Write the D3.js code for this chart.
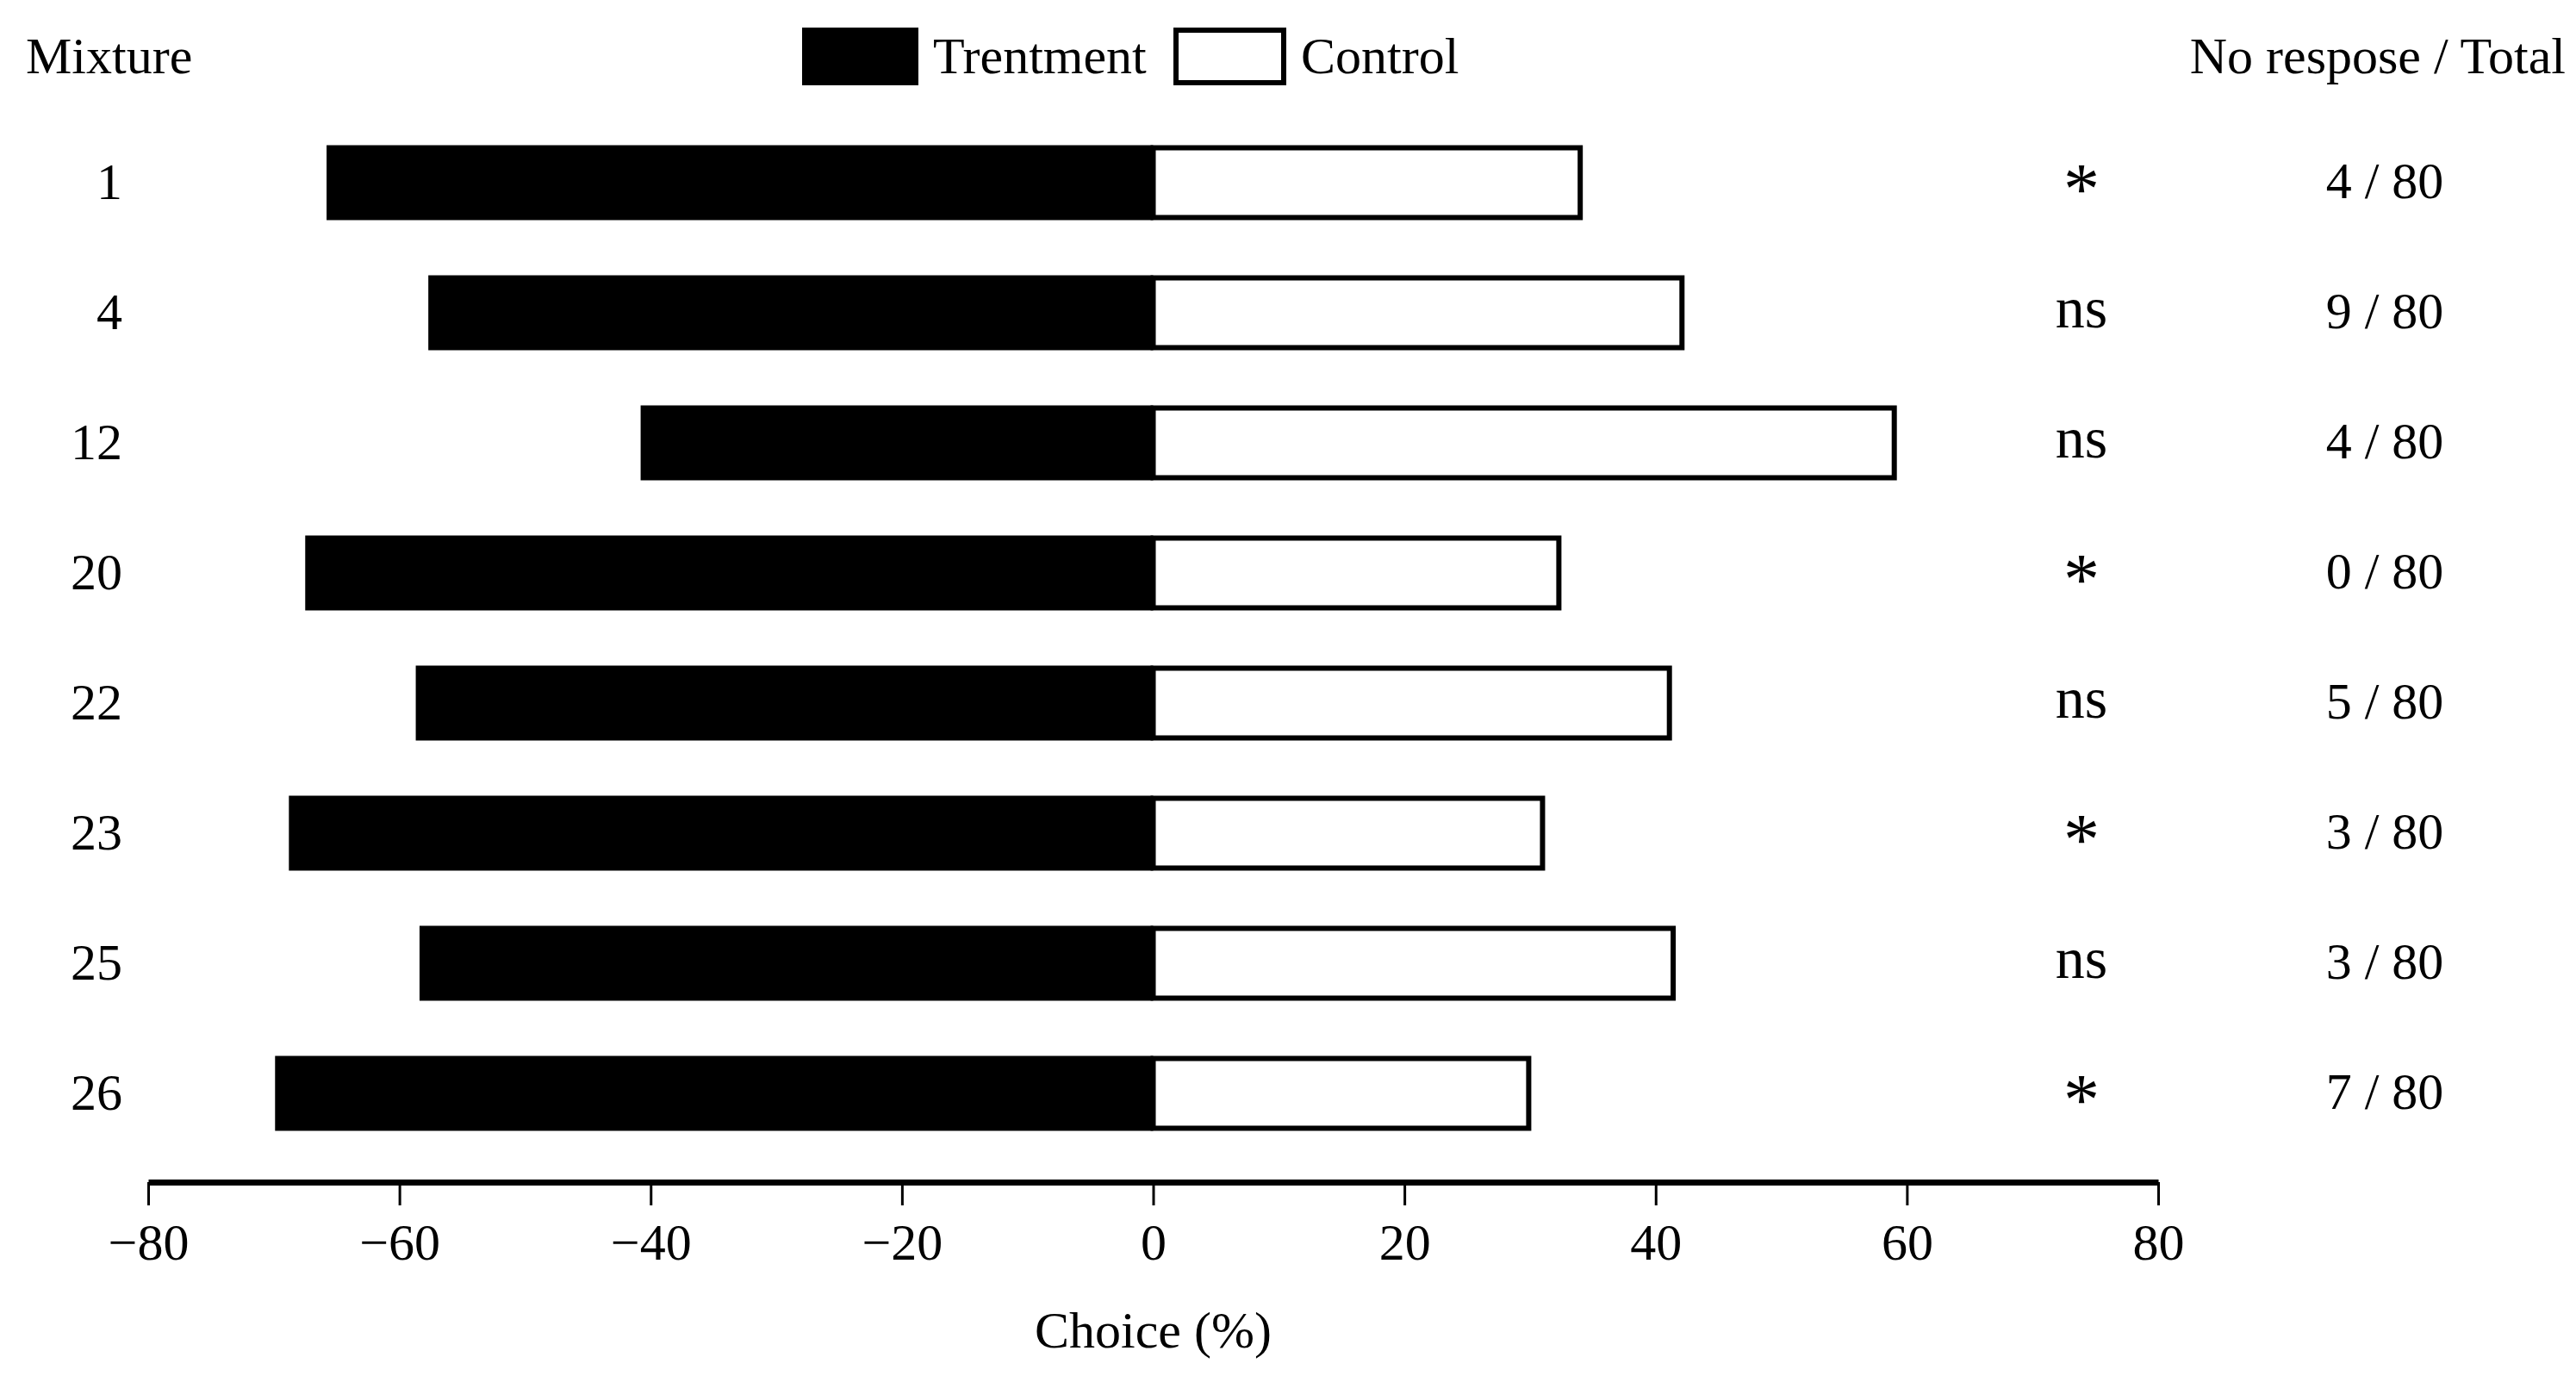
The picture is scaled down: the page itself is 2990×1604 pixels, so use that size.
<!DOCTYPE html>
<html>
<head>
<meta charset="utf-8">
<script src="https://cdn.jsdelivr.net/npm/d3@7"></script>
<style>
    body { margin:0; background:#fff; }
    svg { display:block; }
</style>
</head>
<body>
<div id="chart"></div>
<script>
//DATA
const mixtures = ["1", "4", "12", "20", "22", "23", "25", "26"];
const treatment = [-65.8, -57.7, -40.8, -67.5, -58.7, -68.8, -58.4, -69.9];
const control = [34.2, 42.3, 59.2, 32.5, 41.3, 31.2, 41.6, 30.1];
const significance = ["*", "ns", "ns", "*", "ns", "*", "ns", "*"];
const noResponse = ["4 / 80", "9 / 80", "4 / 80", "0 / 80", "5 / 80", "3 / 80", "3 / 80", "7 / 80"];
const xTicks = [-80, -60, -40, -20, 0, 20, 40, 60, 80];

const rows = mixtures.map((m, i) => ({
    key:m, treatment:treatment[i], control:control[i],
    sig:significance[i], ratio:noResponse[i]
}));

//dimensions
const WIDTH = 2990;
const HEIGHT = 1604;
const FONT = "'Liberation Serif', 'Times New Roman', serif";
const FONT_SIZE = 60;
const axisY = 1372;
const OUTLINE = 6;

const svg = d3.select("#chart").append("svg")
    .attr("width", WIDTH)
    .attr("height", HEIGHT)
    .attr("font-family", FONT);

svg.append("rect")
    .attr("width", WIDTH)
    .attr("height", HEIGHT)
    .attr("fill", "#fff");

//scales
const x = d3.scaleLinear()
    .domain([-80, 80])
    .range([172, 2505]);

const y = d3.scaleBand()
    .domain(mixtures)
    .range([136.5, 1344.5])
    .paddingInner(0.424)
    .paddingOuter(0.212);

const bh = y.bandwidth();
const cy = d => y(d.key) + bh / 2;

//bars
const rowG = svg.selectAll("g.row").data(rows, d => d.key)
    .join("g")
        .attr("class", "row");

rowG.append("rect")
    .attr("class", "treatment")
    .attr("x", d => x(d.treatment))
    .attr("y", d => y(d.key))
    .attr("width", d => x(0) - x(d.treatment))
    .attr("height", bh)
    .attr("fill", "#000");

rowG.append("rect")
    .attr("class", "control")
    .attr("x", x(0))
    .attr("y", d => y(d.key) + OUTLINE / 2)
    .attr("width", d => x(d.control) - x(0) - OUTLINE / 2)
    .attr("height", bh - OUTLINE)
    .attr("fill", "#fff")
    .attr("stroke", "#000")
    .attr("stroke-width", OUTLINE);

//mixture labels
rowG.append("text")
    .attr("x", 142)
    .attr("y", d => cy(d) + 19)
    .attr("text-anchor", "end")
    .attr("font-size", FONT_SIZE)
    .attr("fill", "#000")
    .text(d => d.key);

//significance
rowG.append("text")
    .attr("x", 2416)
    .attr("y", d => d.sig === "*" ? cy(d) + 36 : cy(d) + 17)
    .attr("text-anchor", "middle")
    .attr("font-size", d => d.sig === "*" ? 84 : 68)
    .attr("fill", "#000")
    .text(d => d.sig);

//no response / total
rowG.append("text")
    .attr("x", 2768)
    .attr("y", d => cy(d) + 18)
    .attr("text-anchor", "middle")
    .attr("font-size", FONT_SIZE)
    .attr("fill", "#000")
    .text(d => d.ratio);

//x axis
const axisG = svg.append("g")
    .attr("class", "x-axis")
    .attr("transform", `translate(0,${axisY})`)
    .call(d3.axisBottom(x)
        .tickValues(xTicks)
        .tickSize(27)
        .tickSizeOuter(0)
        .tickPadding(20));

axisG.select("path.domain")
    .attr("stroke", "#000")
    .attr("stroke-width", 7);

axisG.selectAll(".tick line")
    .attr("stroke", "#000")
    .attr("stroke-width", 3);

axisG.selectAll(".tick text")
    .attr("font-family", FONT)
    .attr("font-size", FONT_SIZE)
    .attr("fill", "#000");

svg.append("text")
    .attr("x", x(0))
    .attr("y", 1564)
    .attr("text-anchor", "middle")
    .attr("font-size", FONT_SIZE)
    .text("Choice (%)");

//header
svg.append("text")
    .attr("x", 30)
    .attr("y", 85)
    .attr("font-size", FONT_SIZE)
    .text("Mixture");

svg.append("text")
    .attr("x", 2978)
    .attr("y", 85)
    .attr("text-anchor", "end")
    .attr("font-size", FONT_SIZE)
    .text("No respose / Total");

//legend
const legendItems = [
    { label:"Trentment", fill:"#000", x:931 },
    { label:"Control", fill:"#fff", x:1362 }
];
const legendG = svg.selectAll("g.legend-item").data(legendItems)
    .join("g")
        .attr("class", "legend-item")
        .attr("transform", d => `translate(${d.x},32)`);

legendG.append("rect")
    .attr("x", d => d.fill === "#fff" ? OUTLINE / 2 : 0)
    .attr("y", d => d.fill === "#fff" ? OUTLINE / 2 : 0)
    .attr("width", d => d.fill === "#fff" ? 131 - OUTLINE : 135)
    .attr("height", d => d.fill === "#fff" ? 67 - OUTLINE : 67)
    .attr("fill", d => d.fill)
    .attr("stroke", d => d.fill === "#fff" ? "#000" : "none")
    .attr("stroke-width", OUTLINE);

legendG.append("text")
    .attr("x", d => d.fill === "#fff" ? 148 : 152)
    .attr("y", 53)
    .attr("font-size", FONT_SIZE)
    .text(d => d.label);
</script>
</body>
</html>
